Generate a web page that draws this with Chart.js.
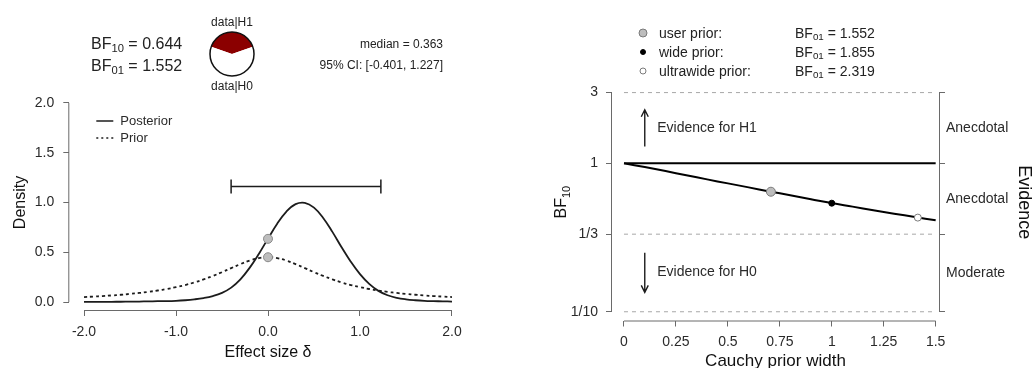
<!DOCTYPE html>
<html>
<head>
<meta charset="utf-8">
<script src="https://cdn.jsdelivr.net/npm/chart.js@4.4.1/dist/chart.umd.min.js"></script>
<style>
  body { margin: 0; background: #fff; width: 1033px; height: 368px; overflow: hidden; position: relative;
         font-family: "Liberation Sans", Arial, sans-serif; color: #222; }
  canvas { position: absolute; }
  .lbl { position: absolute; white-space: nowrap; line-height: 1; }
  .lbl sub { font-size: 0.7em; vertical-align: -0.25em; line-height: 0; }
  .dot { position: absolute; border-radius: 50%; box-sizing: border-box; transform: translate(-50%, -50%); }
</style>
</head>
<body>
<canvas id="posteriorChart" width="480" height="368" style="left:0;top:0"></canvas>
<canvas id="pieChart" width="52" height="52" style="left:206px;top:28px"></canvas>
<canvas id="robustChart" width="543" height="368" style="left:490px;top:0"></canvas>
<div id="labels"></div>

<script>
// ---- data: prior / posterior plot ----
const deltaGrid = [-2.0, -1.9, -1.8, -1.7, -1.6, -1.5, -1.4, -1.3, -1.2, -1.1, -1.0, -0.9, -0.8, -0.7, -0.6, -0.5, -0.4, -0.3, -0.2, -0.1,
  0.0, 0.1, 0.2, 0.3, 0.4, 0.5, 0.6, 0.7, 0.8, 0.9, 1.0, 1.1, 1.2, 1.3, 1.4, 1.5, 1.6, 1.7, 1.8, 1.9, 2.0];
const posteriorDensity = [0.001, 0.0015, 0.002, 0.0025, 0.003, 0.004, 0.005, 0.0065, 0.0085, 0.009, 0.012, 0.018, 0.027, 0.04, 0.06, 0.092, 0.145, 0.228, 0.343, 0.483,
  0.637, 0.787, 0.909, 0.984, 0.997, 0.948, 0.845, 0.705, 0.55, 0.405, 0.28, 0.182, 0.112, 0.068, 0.042, 0.027, 0.018, 0.012, 0.009, 0.007, 0.005];
const priorDensity = [0.050, 0.055, 0.060, 0.066, 0.073, 0.082, 0.091, 0.102, 0.116, 0.131, 0.150, 0.171, 0.197, 0.228, 0.262, 0.300, 0.341, 0.381, 0.417, 0.441,
  0.450, 0.441, 0.417, 0.381, 0.341, 0.300, 0.262, 0.228, 0.197, 0.171, 0.150, 0.131, 0.116, 0.102, 0.091, 0.082, 0.073, 0.066, 0.060, 0.055, 0.050];
const densityAtZero = [0.635, 0.45];          // posterior, prior at delta = 0
const credibleInterval = [-0.401, 1.227];
const credibleBarHeight = 1.16;
const posteriorMedian = 0.363;
const bfSubscripts = ['10', '01'];
const bfNumbers = ['0.644', '1.552'];
const deltaTicks = [-2, -1, 0, 1, 2];
const densityTicks = [0, 0.5, 1, 1.5, 2];

// ---- data: robustness check ----
const priorWidths = [0, 0.1, 0.2, 0.3, 0.4, 0.5, 0.6, 0.7, 0.8, 0.9, 1.0, 1.1, 1.2, 1.3, 1.4, 1.5];
const robustBF10 = [1.0, 0.944, 0.887, 0.832, 0.780, 0.733, 0.689, 0.647, 0.610, 0.574, 0.540, 0.511, 0.483, 0.458, 0.435, 0.413];
const markerNames = ['user prior:', 'wide prior:', 'ultrawide prior:'];
const markerWidths = [0.707, 1, 1.414];
const markerBF10 = [0.644, 0.539, 0.431];
const markerBF01 = ['1.552', '1.855', '2.319'];
const bfTicks = [3, 1, 1 / 3, 1 / 10];
const bfTickLabels = ['3', '1', '1/3', '1/10'];
const evidenceLabels = ['Anecdotal', 'Anecdotal', 'Moderate'];
const widthTicks = [0, 0.25, 0.5, 0.75, 1, 1.25, 1.5];
const arrowText = ['Evidence for H1', 'Evidence for H0'];
const arrowFrom = [1.3, 0.25];
const arrowTo = [2.3, 0.135];

const inkColor = '#1c1c1c';
const axisGray = '#6a6a6a';
const textColor = '#2a2a2a';
const fontFamily = '"Liberation Sans", Arial, sans-serif';
const markerFill = ['#bdbdbd', '#000000', '#ffffff'];
const markerEdge = ['#7a7a7a', '#000000', '#7a7a7a'];
const markerSize = [4.5, 3, 3.5];

// R-style axis: the line only covers the first to last tick
const rAxisLines = {
  id: 'rAxisLines',
  afterDraw(chart) {
    const { ctx, chartArea } = chart;
    ctx.save();
    ctx.strokeStyle = axisGray;
    ctx.lineWidth = 1;
    Object.values(chart.scales).forEach(s => {
      if (!s.ticks.length) return;
      const vals = s.ticks.map(t => s.getPixelForValue(t.value));
      const a = Math.min(...vals), b = Math.max(...vals);
      ctx.beginPath();
      if (s.isHorizontal()) {
        ctx.moveTo(a, chartArea.bottom + 0.5); ctx.lineTo(b, chartArea.bottom + 0.5);
      } else {
        const x = s.position === 'left' ? chartArea.left - 0.5 : chartArea.right + 0.5;
        ctx.moveTo(x, a); ctx.lineTo(x, b);
      }
      ctx.stroke();
    });
    ctx.restore();
  }
};

function fixedTicks(values) {
  return scale => { scale.ticks = values.map(v => ({ value: v })); };
}

function rScale(extra) {
  return Object.assign({
    border: { display: false },
    grid: { display: true, drawOnChartArea: false, drawTicks: true, tickLength: 6, tickColor: axisGray, tickWidth: 1 },
    ticks: { color: textColor, font: { size: 14, family: fontFamily }, autoSkip: false, maxRotation: 0, padding: 8 }
  }, extra);
}

// ---------- left: prior and posterior ----------
const posteriorLegend = {
  id: 'posteriorLegend',
  afterDraw(chart) {
    const { ctx, chartArea } = chart;
    ctx.save();
    ctx.font = '13px ' + fontFamily;
    ctx.fillStyle = textColor;
    ctx.strokeStyle = inkColor;
    ctx.lineWidth = 1.5;
    ctx.textBaseline = 'middle';
    [['Posterior', []], ['Prior', [2, 3]]].forEach(([name, dash], i) => {
      const y = chartArea.top + 26 + i * 17;
      ctx.setLineDash(dash);
      ctx.beginPath();
      ctx.moveTo(chartArea.left + 27, y); ctx.lineTo(chartArea.left + 44, y);
      ctx.stroke();
      ctx.fillText(name, chartArea.left + 51, y);
    });
    ctx.restore();
  }
};

new Chart(document.getElementById('posteriorChart'), {
  type: 'line',
  data: {
    datasets: [
      {
        label: 'at zero',
        data: densityAtZero.map(v => ({ x: 0, y: v })),
        showLine: false,
        pointRadius: 4.5,
        pointBackgroundColor: '#bdbdbd',
        pointBorderColor: '#8a8a8a',
        pointBorderWidth: 1
      },
      {
        label: 'CI',
        data: credibleInterval.map(v => ({ x: v, y: credibleBarHeight })),
        borderColor: inkColor,
        borderWidth: 1.5,
        pointStyle: 'line',
        rotation: 90,
        pointRadius: 7,
        pointBorderWidth: 1.5,
        pointBorderColor: inkColor
      },
      {
        label: 'Posterior',
        data: deltaGrid.map((d, i) => ({ x: d, y: posteriorDensity[i] })),
        borderColor: inkColor,
        borderWidth: 1.8,
        pointRadius: 0,
        tension: 0.4
      },
      {
        label: 'Prior',
        data: deltaGrid.map((d, i) => ({ x: d, y: priorDensity[i] })),
        borderColor: inkColor,
        borderWidth: 1.8,
        borderDash: [3, 3],
        pointRadius: 0,
        tension: 0.4
      }
    ]
  },
  options: {
    responsive: false,
    animation: false,
    clip: false,
    layout: { padding: { top: 95, right: 13.3, left: 0, bottom: 0 } },
    plugins: { legend: { display: false }, tooltip: { enabled: false } },
    scales: {
      x: rScale({
        type: 'linear', min: -2.16, max: 2.16,
        afterBuildTicks: fixedTicks(deltaTicks),
        afterFit: s => { s.height = 58; },
        ticks: { color: textColor, font: { size: 14, family: fontFamily }, autoSkip: false, maxRotation: 0, padding: 8,
                 callback: v => v.toFixed(1) },
        title: { display: true, text: 'Effect size \u03b4', color: '#111', font: { size: 16, family: fontFamily }, padding: { top: 0, bottom: 6 } }
      }),
      y: rScale({
        type: 'linear', min: -0.08, max: 2.08,
        afterBuildTicks: fixedTicks(densityTicks),
        afterFit: s => { s.width = 69.3; },
        ticks: { color: textColor, font: { size: 14, family: fontFamily }, autoSkip: false, padding: 9,
                 callback: v => v.toFixed(1) },
        title: { display: true, text: 'Density', color: '#111', font: { size: 16, family: fontFamily }, padding: { top: 11, bottom: 0 } }
      })
    }
  },
  plugins: [rAxisLines, posteriorLegend]
});

// ---------- pie: P(H1|data) vs P(H0|data) ----------
const pieOutline = {
  id: 'pieOutline',
  afterDraw(chart) {
    const arc = chart.getDatasetMeta(0).data[0];
    const ctx = chart.ctx;
    ctx.save();
    ctx.strokeStyle = '#111';
    ctx.lineWidth = 1.5;
    ctx.beginPath();
    ctx.arc(arc.x, arc.y, arc.outerRadius, 0, Math.PI * 2);
    ctx.stroke();
    ctx.restore();
  }
};
const bf10 = parseFloat(bfNumbers[0]);
new Chart(document.getElementById('pieChart'), {
  type: 'pie',
  data: { datasets: [{ data: [bf10, 1], backgroundColor: ['#8b0000', '#ffffff'], borderWidth: 0 }] },
  options: {
    responsive: false,
    animation: false,
    rotation: -bf10 / (1 + bf10) * 180,
    layout: { padding: 4 },
    plugins: { legend: { display: false }, tooltip: { enabled: false } }
  },
  plugins: [pieOutline]
});

// ---------- right: Bayes factor robustness check ----------
const evidenceNotes = {
  id: 'evidenceNotes',
  afterDraw(chart) {
    const { ctx, chartArea, scales: { x, y } } = chart;
    ctx.save();
    ctx.strokeStyle = inkColor;
    ctx.fillStyle = textColor;
    ctx.lineWidth = 1.4;
    ctx.font = '14px ' + fontFamily;
    ctx.textBaseline = 'middle';
    const ax = x.getPixelForValue(0.1);
    arrowText.forEach((txt, i) => {
      const y0 = y.getPixelForValue(arrowFrom[i]);
      const y1 = y.getPixelForValue(arrowTo[i]);
      const dir = y1 < y0 ? 1 : -1;
      ctx.beginPath();
      ctx.moveTo(ax, y0); ctx.lineTo(ax, y1);
      ctx.moveTo(ax - 3.5, y1 + dir * 7); ctx.lineTo(ax, y1); ctx.lineTo(ax + 3.5, y1 + dir * 7);
      ctx.stroke();
      ctx.fillText(txt, x.getPixelForValue(0.16), (y0 + y1) / 2);
    });
    // y-axis title with subscript
    const tx = chartArea.left - 50, ty = (chartArea.top + chartArea.bottom) / 2;
    ctx.translate(tx, ty);
    ctx.rotate(-Math.PI / 2);
    ctx.fillStyle = '#111';
    ctx.font = '16px ' + fontFamily;
    const w1 = ctx.measureText('BF').width;
    ctx.font = '11px ' + fontFamily;
    const w2 = ctx.measureText('10').width;
    ctx.font = '16px ' + fontFamily;
    ctx.fillText('BF', -(w1 + w2) / 2, 0);
    ctx.font = '11px ' + fontFamily;
    ctx.fillText('10', -(w1 + w2) / 2 + w1, 5);
    ctx.restore();
  }
};

// label positions for the evidence categories sit between the cut-offs
const evidenceTicks = [];
bfTicks.forEach((v, i) => {
  evidenceTicks.push(v);
  if (i < bfTicks.length - 1) evidenceTicks.push(Math.sqrt(v * bfTicks[i + 1]));
});

const referenceLines = [0, 2, 3].map(i => ({
  data: [{ x: widthTicks[0], y: bfTicks[i] }, { x: widthTicks[widthTicks.length - 1], y: bfTicks[i] }],
  borderColor: '#a8a8a8',
  borderWidth: 1,
  borderDash: [4, 4],
  pointRadius: 0
}));

new Chart(document.getElementById('robustChart'), {
  type: 'line',
  data: {
    datasets: [
      {
        label: 'markers',
        data: markerWidths.map((w, i) => ({ x: w, y: markerBF10[i] })),
        showLine: false,
        pointRadius: markerSize,
        pointBackgroundColor: markerFill,
        pointBorderColor: markerEdge,
        pointBorderWidth: 1
      },
      {
        label: 'BF10',
        data: priorWidths.map((w, i) => ({ x: w, y: robustBF10[i] })),
        borderColor: '#000',
        borderWidth: 2,
        pointRadius: 0,
        tension: 0.4
      },
      {
        label: 'BF = 1',
        data: [{ x: widthTicks[0], y: bfTicks[1] }, { x: widthTicks[widthTicks.length - 1], y: bfTicks[1] }],
        borderColor: '#000',
        borderWidth: 2,
        pointRadius: 0
      },
      ...referenceLines
    ]
  },
  options: {
    responsive: false,
    animation: false,
    clip: false,
    layout: { padding: { top: 83.8, right: 0, left: 0, bottom: 0 } },
    plugins: { legend: { display: false }, tooltip: { enabled: false } },
    scales: {
      x: rScale({
        type: 'linear', min: -0.0577, max: 1.516,
        afterBuildTicks: fixedTicks(widthTicks),
        afterFit: s => { s.height = 47.5; },
        ticks: { color: textColor, font: { size: 14, family: fontFamily }, autoSkip: false, maxRotation: 0, padding: 7,
                 callback: v => String(v) },
        title: { display: true, text: 'Cauchy prior width', color: '#111', font: { size: 17, family: fontFamily, lineHeight: 1 }, padding: { top: 0, bottom: -2 } }
      }),
      y: rScale({
        type: 'logarithmic', position: 'left', min: 0.0873, max: 3.438,
        afterBuildTicks: fixedTicks(bfTicks),
        afterFit: s => { s.width = 122; },
        ticks: { color: textColor, font: { size: 14, family: fontFamily }, autoSkip: false, padding: 8,
                 callback: (v, i) => bfTickLabels[i] }
      }),
      y2: rScale({
        type: 'logarithmic', position: 'right', min: 0.0873, max: 3.438,
        afterBuildTicks: fixedTicks(evidenceTicks),
        afterFit: s => { s.width = 94; },
        grid: { display: true, drawOnChartArea: false, drawTicks: true, tickLength: 6, tickWidth: 1,
                tickColor: c => (c.index % 2 === 0 ? axisGray : 'rgba(0,0,0,0)') },
        ticks: { color: textColor, font: { size: 14, family: fontFamily }, autoSkip: false, padding: 1,
                 callback: (v, i) => (i % 2 === 1 ? evidenceLabels[(i - 1) / 2] : '') },
        title: { display: true, text: 'Evidence', color: '#111', font: { size: 18, family: fontFamily, lineHeight: 1 }, padding: { top: 0, bottom: 0 } }
      })
    }
  },
  plugins: [rAxisLines, evidenceNotes]
});

// ---------- header texts ----------
const labels = document.getElementById('labels');
function addLabel(html, x, y, size, align) {
  const el = document.createElement('div');
  el.className = 'lbl';
  el.innerHTML = html;
  el.style.left = x + 'px';
  el.style.top = y + 'px';
  el.style.fontSize = size + 'px';
  const dx = align === 'right' ? '-100%' : align === 'center' ? '-50%' : '0';
  el.style.transform = 'translate(' + dx + ', -50%)';
  labels.appendChild(el);
}
bfSubscripts.forEach((s, i) => addLabel('BF<sub>' + s + '</sub> = ' + bfNumbers[i], 91, 44 + i * 22, 16, 'left'));
addLabel('data|H1', 232, 22, 12, 'center');
addLabel('data|H0', 232, 86, 12, 'center');
addLabel('median = ' + posteriorMedian.toFixed(3), 443, 44, 12, 'right');
addLabel('95% CI: [' + credibleInterval.map(v => v.toFixed(3)).join(', ') + ']', 443, 65, 12, 'right');

markerNames.forEach((name, i) => {
  const y = 33 + i * 19;
  const dot = document.createElement('div');
  dot.className = 'dot';
  const d = markerSize[i] * 2;
  Object.assign(dot.style, { left: '643px', top: y + 'px', width: d + 'px', height: d + 'px',
    background: markerFill[i], border: '1px solid ' + markerEdge[i] });
  labels.appendChild(dot);
  addLabel(name, 659, y, 14, 'left');
  addLabel('BF<sub>01</sub> = ' + markerBF01[i], 795, y, 14, 'left');
});
</script>
</body>
</html>
